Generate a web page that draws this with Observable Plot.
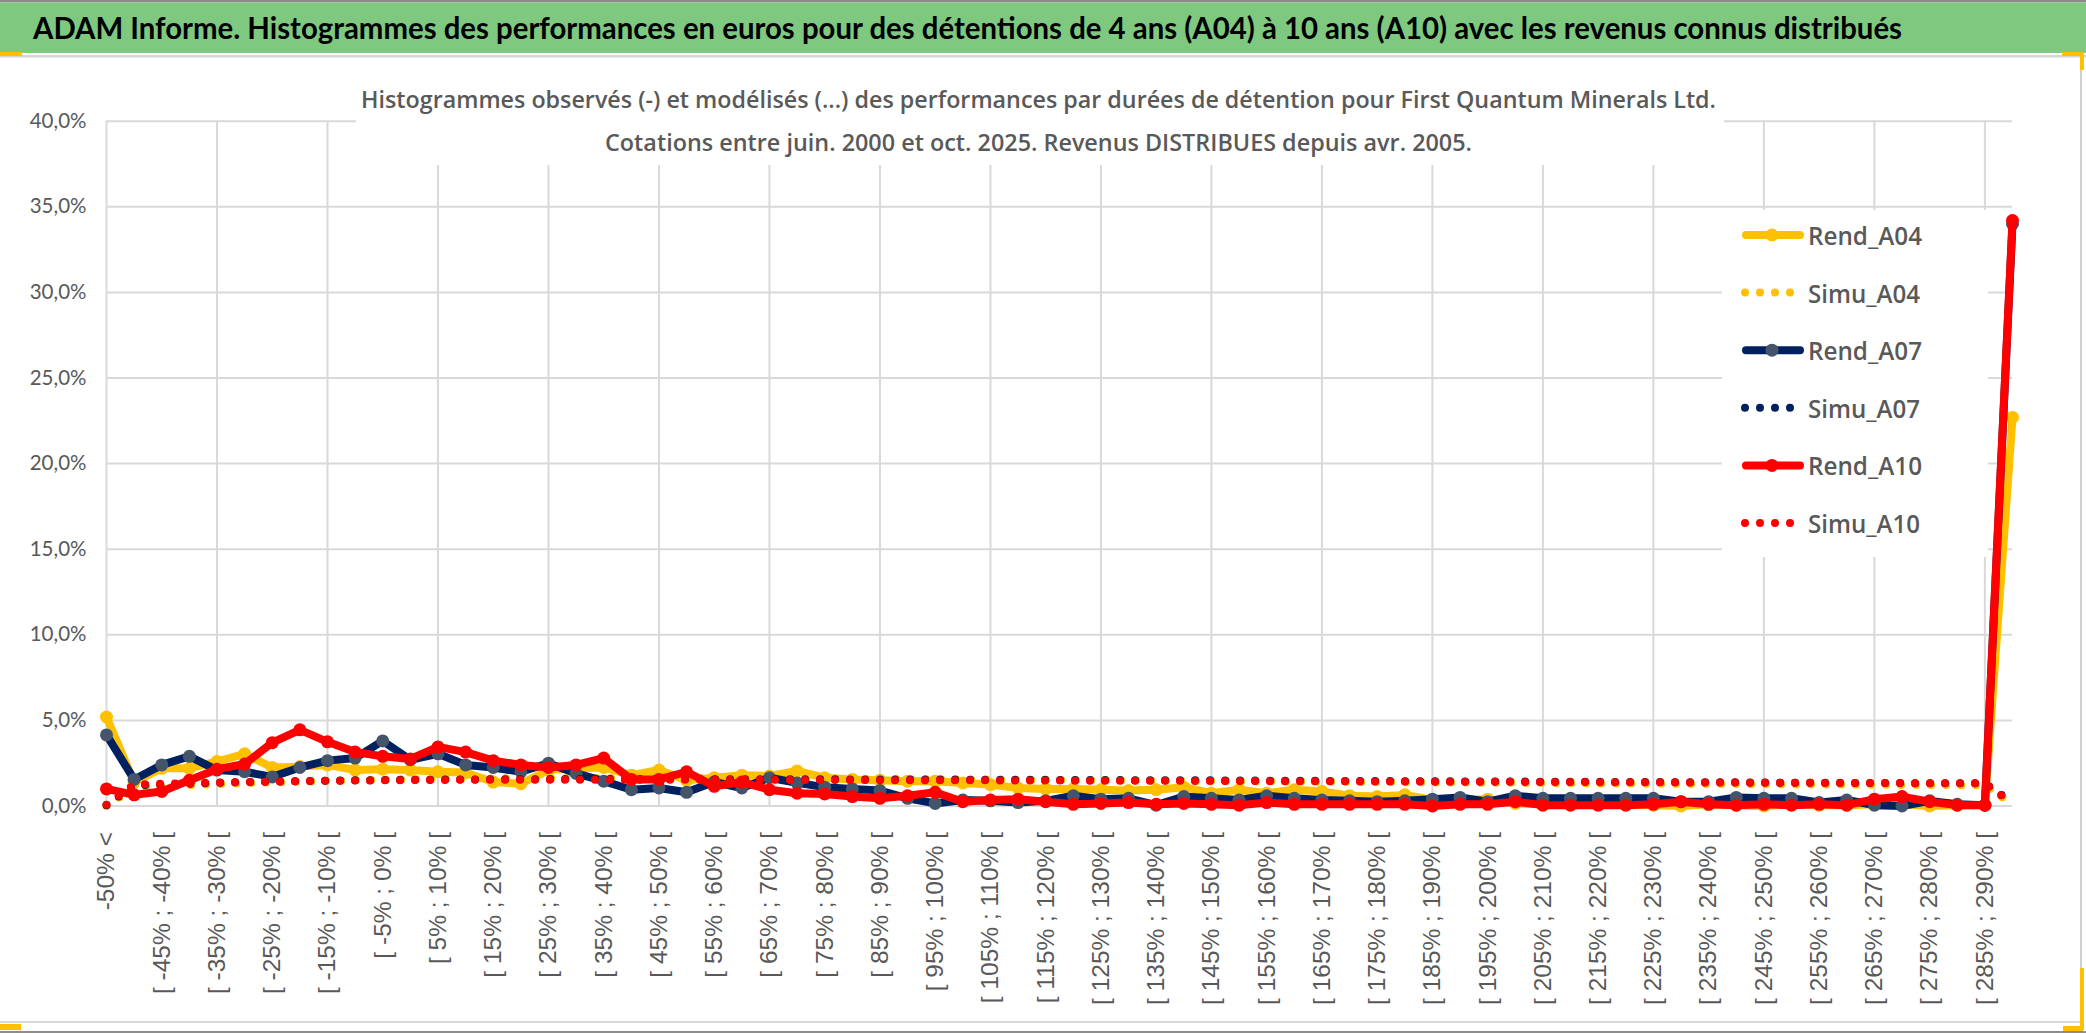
<!DOCTYPE html>
<html>
<head>
<meta charset="utf-8">
<script src="https://cdn.jsdelivr.net/npm/d3@7"></script>
<script src="https://cdn.jsdelivr.net/npm/@observablehq/plot@0.6"></script>
<style>
html, body { margin: 0; padding: 0; background: #fff; }
#page { position: relative; width: 2086px; height: 1033px; overflow: hidden; background: #fff; }
#chart { position: absolute; left: 0; top: 57px; }
#chart svg [aria-label^="x-axis"] text { font-family: "Liberation Sans", Arial, sans-serif; font-size: 24.5px; fill: #595959; }
#chart svg [aria-label^="y-axis"] text { font-family: "Liberation Sans Narrow", Lato, sans-serif; font-size: 20.5px; fill: #595959; }
#overlay { position: absolute; left: 0; top: 0; pointer-events: none; }
</style>
</head>
<body>
<div id="page"><div id="chart"></div></div>
<script>
// ---------------- DATA ----------------
const headerTitle = "ADAM Informe. Histogrammes des performances en euros pour des détentions de 4 ans (A04) à 10 ans (A10) avec les revenus connus distribués";
const subtitle1 = "Histogrammes observés (-) et modélisés (...) des performances par durées de détention pour First Quantum Minerals Ltd.";
const subtitle2 = "Cotations entre juin. 2000 et oct. 2025. Revenus DISTRIBUES depuis avr. 2005.";

const cats = [
  "-50% <",
  "[ -50% ; -45% [", "[ -45% ; -40% [", "[ -40% ; -35% [", "[ -35% ; -30% [", "[ -30% ; -25% [",
  "[ -25% ; -20% [", "[ -20% ; -15% [", "[ -15% ; -10% [", "[ -10% ; -5% [", "[ -5% ; 0% [",
  "[ 0% ; 5% [", "[ 5% ; 10% [", "[ 10% ; 15% [", "[ 15% ; 20% [", "[ 20% ; 25% [",
  "[ 25% ; 30% [", "[ 30% ; 35% [", "[ 35% ; 40% [", "[ 40% ; 45% [", "[ 45% ; 50% [",
  "[ 50% ; 55% [", "[ 55% ; 60% [", "[ 60% ; 65% [", "[ 65% ; 70% [", "[ 70% ; 75% [",
  "[ 75% ; 80% [", "[ 80% ; 85% [", "[ 85% ; 90% [", "[ 90% ; 95% [", "[ 95% ; 100% [",
  "[ 100% ; 105% [", "[ 105% ; 110% [", "[ 110% ; 115% [", "[ 115% ; 120% [", "[ 120% ; 125% [",
  "[ 125% ; 130% [", "[ 130% ; 135% [", "[ 135% ; 140% [", "[ 140% ; 145% [", "[ 145% ; 150% [",
  "[ 150% ; 155% [", "[ 155% ; 160% [", "[ 160% ; 165% [", "[ 165% ; 170% [", "[ 170% ; 175% [",
  "[ 175% ; 180% [", "[ 180% ; 185% [", "[ 185% ; 190% [", "[ 190% ; 195% [", "[ 195% ; 200% [",
  "[ 200% ; 205% [", "[ 205% ; 210% [", "[ 210% ; 215% [", "[ 215% ; 220% [", "[ 220% ; 225% [",
  "[ 225% ; 230% [", "[ 230% ; 235% [", "[ 235% ; 240% [", "[ 240% ; 245% [", "[ 245% ; 250% [",
  "[ 250% ; 255% [", "[ 255% ; 260% [", "[ 260% ; 265% [", "[ 265% ; 270% [", "[ 270% ; 275% [",
  "[ 275% ; 280% [", "[ 280% ; 285% [", "[ 285% ; 290% [",
  "> 290%"
];

const yTickValues = [0, 5, 10, 15, 20, 25, 30, 35, 40];

// values in %
const rendA04 = [
  5.2, 1.4, 2.2, 2.2, 2.6, 3.05, 2.25, 2.3, 2.4, 2.1,
  2.15, 2.1, 2.0, 1.95, 1.4, 1.3, 2.1, 2.2, 2.25, 1.8,
  2.1, 1.5, 1.65, 1.8, 1.75, 2.05, 1.65, 1.55, 1.5, 1.45,
  1.45, 1.35, 1.25, 1.05, 1.0, 1.0, 0.95, 0.9, 0.95, 1.1,
  0.75, 0.95, 0.75, 0.95, 0.85, 0.6, 0.55, 0.65, 0.35, 0.35,
  0.4, 0.15, 0.1, 0.1, 0.1, 0.1, 0.05, 0.0, 0.1, 0.05,
  0.0, 0.1, 0.05, 0.05, 0.1, 0.1, 0.0, 0.05, 0.05, 22.7
];
const simuA04 = [
  0.02, 1.05, 1.15, 1.2, 1.28, 1.33, 1.38, 1.42, 1.46, 1.5,
  1.53, 1.56, 1.58, 1.6, 1.61, 1.62, 1.62, 1.63, 1.63, 1.63,
  1.62, 1.62, 1.62, 1.61, 1.6, 1.6, 1.59, 1.58, 1.58, 1.57,
  1.56, 1.55, 1.54, 1.53, 1.52, 1.51, 1.5, 1.49, 1.48, 1.47,
  1.46, 1.45, 1.44, 1.43, 1.42, 1.41, 1.4, 1.39, 1.38, 1.37,
  1.36, 1.35, 1.34, 1.33, 1.32, 1.31, 1.3, 1.29, 1.28, 1.28,
  1.27, 1.26, 1.25, 1.25, 1.24, 1.23, 1.22, 1.22, 1.21, 0.1
];
const rendA07 = [
  4.15, 1.55, 2.4, 2.9, 2.1, 2.0, 1.7, 2.25, 2.65, 2.8,
  3.8, 2.7, 3.05, 2.4, 2.25, 2.0, 2.5, 1.9, 1.45, 0.95,
  1.05, 0.8, 1.4, 1.05, 1.65, 1.35, 1.1, 1.0, 0.9, 0.45,
  0.15, 0.35, 0.3, 0.2, 0.3, 0.6, 0.4, 0.45, 0.05, 0.55,
  0.45, 0.35, 0.6, 0.45, 0.35, 0.3, 0.25, 0.3, 0.4, 0.5,
  0.25, 0.6, 0.45, 0.45, 0.45, 0.45, 0.45, 0.25, 0.25, 0.5,
  0.45, 0.45, 0.2, 0.35, 0.05, 0.0, 0.3, 0.1, 0.05, 34.0
];
const simuA07 = [
  0.05, 1.2, 1.25, 1.3, 1.35, 1.4, 1.42, 1.45, 1.47, 1.5,
  1.52, 1.53, 1.54, 1.55, 1.56, 1.56, 1.57, 1.57, 1.57, 1.57,
  1.57, 1.57, 1.57, 1.56, 1.56, 1.56, 1.56, 1.55, 1.55, 1.55,
  1.55, 1.54, 1.54, 1.53, 1.53, 1.52, 1.52, 1.51, 1.51, 1.5,
  1.5, 1.49, 1.48, 1.48, 1.47, 1.46, 1.46, 1.45, 1.45, 1.44,
  1.43, 1.43, 1.42, 1.42, 1.41, 1.4, 1.4, 1.39, 1.38, 1.38,
  1.37, 1.36, 1.36, 1.35, 1.35, 1.34, 1.33, 1.33, 1.32, 0.2
];
const rendA10 = [
  1.0, 0.65, 0.85, 1.5, 2.15, 2.45, 3.7, 4.45, 3.75, 3.15,
  2.9, 2.75, 3.45, 3.15, 2.65, 2.4, 2.25, 2.4, 2.8, 1.55,
  1.55, 2.0, 1.15, 1.4, 0.95, 0.75, 0.7, 0.55, 0.45, 0.6,
  0.8, 0.25, 0.35, 0.4, 0.25, 0.1, 0.15, 0.2, 0.1, 0.15,
  0.1, 0.05, 0.2, 0.1, 0.1, 0.1, 0.1, 0.1, 0.0, 0.1,
  0.1, 0.25, 0.05, 0.05, 0.05, 0.05, 0.1, 0.25, 0.1, 0.05,
  0.1, 0.05, 0.1, 0.05, 0.4, 0.55, 0.25, 0.05, 0.05, 34.2
];
const simuA10 = [
  0.08, 1.25, 1.3, 1.33, 1.37, 1.4, 1.43, 1.45, 1.47, 1.49,
  1.5, 1.51, 1.52, 1.53, 1.53, 1.54, 1.54, 1.54, 1.54, 1.54,
  1.54, 1.54, 1.53, 1.53, 1.53, 1.52, 1.52, 1.52, 1.51, 1.51,
  1.5, 1.5, 1.5, 1.49, 1.49, 1.48, 1.48, 1.47, 1.47, 1.47,
  1.46, 1.46, 1.45, 1.45, 1.44, 1.44, 1.43, 1.43, 1.42, 1.42,
  1.41, 1.41, 1.4, 1.4, 1.39, 1.39, 1.38, 1.38, 1.37, 1.37,
  1.36, 1.36, 1.35, 1.35, 1.34, 1.34, 1.33, 1.33, 1.32, 0.15
];

const seriesNames = ["Rend_A04", "Simu_A04", "Rend_A07", "Simu_A07", "Rend_A10", "Simu_A10"];

// ---------------- STYLE ----------------
const C_ORANGE = "#FFC000", C_NAVY = "#002060", C_RED = "#FF0000", C_SLATE = "#44546A";
const series = [
  {name: seriesNames[0], values: rendA04, color: C_ORANGE, marker: C_ORANGE, kind: "rend"},
  {name: seriesNames[1], values: simuA04, color: C_ORANGE, kind: "simu"},
  {name: seriesNames[2], values: rendA07, color: C_NAVY, marker: C_SLATE, kind: "rend"},
  {name: seriesNames[3], values: simuA07, color: C_NAVY, kind: "simu"},
  {name: seriesNames[4], values: rendA10, color: C_RED, marker: C_RED, kind: "rend"},
  {name: seriesNames[5], values: simuA10, color: C_RED, kind: "simu"}
];

const labelSet = new Set(cats.filter((d, i) => i % 2 === 0));
const gridCats = cats.filter((d, i) => i % 4 === 0);
const GRID = "#d9d9d9";
const LW = 8;
const DOT_W = 8;
const DOT_DASH = "0 15";
const MARKER_R = 6.5;

const marks = [
  Plot.ruleY(yTickValues, {stroke: GRID, strokeWidth: 2}),
  Plot.ruleX(gridCats, {y1: 0, y2: 40, stroke: GRID, strokeWidth: 2})
];
for (const s of series) {
  const rows = s.values.map((v, i) => ({cat: cats[i], v, series: s.name}));
  if (s.kind === "rend") {
    marks.push(Plot.line(rows, {x: "cat", y: "v", stroke: s.color, strokeWidth: LW, strokeLinejoin: "round", strokeLinecap: "round"}));
    marks.push(Plot.dot(rows, {x: "cat", y: "v", r: MARKER_R, fill: s.marker, stroke: "none"}));
  } else {
    marks.push(Plot.line(rows, {x: "cat", y: "v", stroke: s.color, strokeWidth: DOT_W, strokeDasharray: DOT_DASH, strokeLinecap: "round", strokeLinejoin: "round"}));
  }
}

const chart = Plot.plot({
  width: 2086,
  height: 965,
  marginLeft: 106,
  marginRight: 74,
  marginTop: 63.7,
  marginBottom: 216.5,
  style: {background: "transparent", overflow: "visible", color: "#595959"},
  x: {
    type: "point",
    domain: cats,
    padding: 0,
    label: null,
    tickSize: 0,
    tickPadding: 26,
    tickRotate: -90,
    tickFormat: d => labelSet.has(d) ? d : ""
  },
  y: {
    domain: [0, 40],
    ticks: 8,
    label: null,
    tickSize: 0,
    tickPadding: 20,
    tickFormat: d => d.toFixed(1).replace(".", ",") + "%"
  },
  marks
});
document.getElementById("chart").appendChild(chart);

// ---------------- FRAME, TITLES, LEGEND (overlay) ----------------
const ov = d3.select("#page").append("svg")
  .attr("id", "overlay").attr("width", 2086).attr("height", 1033);

// header
ov.append("rect").attr("x", 0).attr("y", 0).attr("width", 2086).attr("height", 2.5).attr("fill", "#8c8c8c");
ov.append("rect").attr("x", 0).attr("y", 2.5).attr("width", 2086).attr("height", 50.5).attr("fill", "#7ec97f");
ov.append("rect").attr("x", 0).attr("y", 55).attr("width", 2086).attr("height", 2.5).attr("fill", "#d6d6d6");
ov.append("text").text(headerTitle)
  .attr("x", 33).attr("y", 38.5)
  .attr("font-family", "Lato, 'Open Sans', sans-serif").attr("font-weight", 700).attr("font-size", 30)
  .attr("fill", "#000").attr("textLength", 1869).attr("lengthAdjust", "spacingAndGlyphs");

// chart area borders and selection handles
ov.append("rect").attr("x", 2080).attr("y", 57).attr("width", 2).attr("height", 966).attr("fill", "#d0d0d0");
ov.append("rect").attr("x", 0).attr("y", 1021).attr("width", 2082).attr("height", 2).attr("fill", "#d9d9d9");
ov.append("rect").attr("x", 0).attr("y", 1031).attr("width", 2086).attr("height", 2).attr("fill", "#8c8c8c");
const HANDLE = "#FFC000";
[[0, 52, 22, 4], [2062, 52, 22, 4], [2080, 52, 4, 18], [0, 1024, 21, 6], [2080, 968, 4, 62], [2063, 1026, 20, 5]]
  .forEach(([x, y, w, h]) => ov.append("rect").attr("x", x).attr("y", y).attr("width", w).attr("height", h).attr("fill", HANDLE));

// subtitle box
const SUB_FONT = "'Open Sans', Lato, sans-serif";
ov.append("rect").attr("x", 356).attr("y", 78).attr("width", 1368).attr("height", 87).attr("fill", "#fff");
ov.append("text").text(subtitle1)
  .attr("x", 361).attr("y", 108)
  .attr("font-family", SUB_FONT).attr("font-weight", 600).attr("font-size", 24)
  .attr("fill", "#595959").attr("textLength", 1355).attr("lengthAdjust", "spacingAndGlyphs");
ov.append("text").text(subtitle2)
  .attr("x", 605).attr("y", 151)
  .attr("font-family", SUB_FONT).attr("font-weight", 600).attr("font-size", 24)
  .attr("fill", "#595959").attr("textLength", 867).attr("lengthAdjust", "spacingAndGlyphs");

// legend
const LEG_X = 1722, LEG_Y = 210, LEG_W = 266, LEG_H = 347;
ov.append("rect").attr("x", LEG_X).attr("y", LEG_Y).attr("width", LEG_W).attr("height", LEG_H).attr("fill", "#fff");
series.forEach((s, k) => {
  const cy = 235 + k * 57.6;
  const g = ov.append("g");
  if (s.kind === "rend") {
    g.append("line").attr("x1", 1746).attr("x2", 1800).attr("y1", cy).attr("y2", cy)
      .attr("stroke", s.color).attr("stroke-width", LW).attr("stroke-linecap", "round");
    g.append("circle").attr("cx", 1772).attr("cy", cy).attr("r", MARKER_R).attr("fill", s.marker);
  } else {
    g.append("line").attr("x1", 1745).attr("x2", 1800).attr("y1", cy).attr("y2", cy)
      .attr("stroke", s.color).attr("stroke-width", DOT_W).attr("stroke-linecap", "round")
      .attr("stroke-dasharray", DOT_DASH);
  }
  g.append("text").text(s.name)
    .attr("x", 1808).attr("y", cy + 10)
    .attr("font-family", SUB_FONT).attr("font-weight", 600).attr("font-size", 26)
    .attr("fill", "#595959").attr("textLength", s.kind === "rend" ? 114 : 112).attr("lengthAdjust", "spacingAndGlyphs");
});
</script>
</body>
</html>
